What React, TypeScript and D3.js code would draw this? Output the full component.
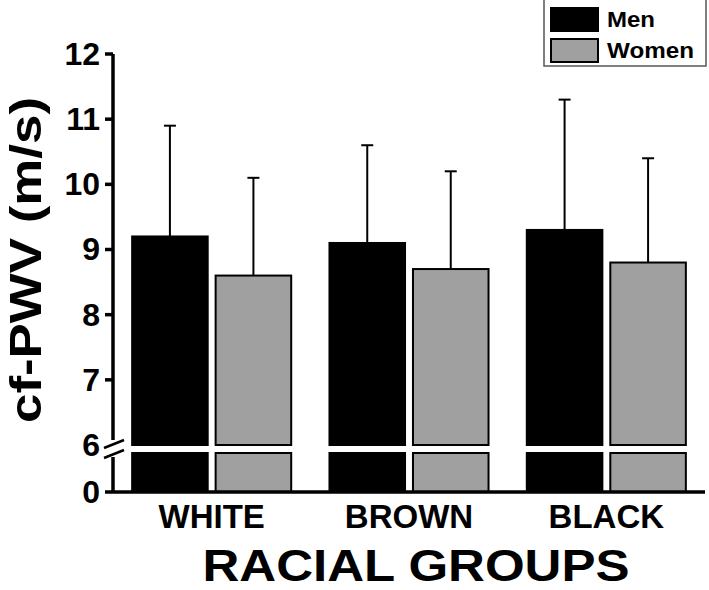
import React, { useEffect, useRef } from "react";
import * as d3 from "d3";

const groups = ["WHITE", "BROWN", "BLACK"];
const sexes = ["Men", "Women"];
const menMean = [9.2, 9.1, 9.3];
const menSd = [1.7, 1.5, 2.0];
const womenMean = [8.6, 8.7, 8.8];
const womenSd = [1.5, 1.5, 1.6];
const upperTicks = [7, 8, 9, 10, 11, 12];

const W = 709;
const H = 590;
const FONT = "'Liberation Sans', Arial, Helvetica, sans-serif";

const App = () => {
  const svgRef = useRef<SVGSVGElement | null>(null);

  useEffect(() => {
    const svg = d3.select(svgRef.current);
    svg.selectAll("*").remove();

    const axisX = 113;
    const axisRight = 705;
    const baseY = 492;

    // broken y axis: a short 0-6 segment under the break, 6-12 above it
    const yUpper = d3.scaleLinear().domain([6, 12]).range([445, 54]);
    const yLower = d3.scaleLinear().domain([0, 6]).range([baseY, 453]);

    const x0 = d3.scaleBand<string>()
      .domain(groups)
      .range([axisX, axisRight])
      .paddingInner(0.194)
      .paddingOuter(0.097);
    const x1 = d3.scaleBand<string>()
      .domain(sexes)
      .range([0, x0.bandwidth()])
      .paddingInner(0.095);

    const colors: Record<string, string> = { Men: "#000000", Women: "#a0a0a0" };

    const rows = groups.flatMap((g, i) => [
      { group: g, sex: "Men", mean: menMean[i], sd: menSd[i] },
      { group: g, sex: "Women", mean: womenMean[i], sd: womenSd[i] },
    ]);

    const g = svg.append("g");
    const bx = (d: any) => (x0(d.group) ?? 0) + (x1(d.sex) ?? 0);

    // error bars (drawn first, bars cover the lower part)
    const err = g.append("g").attr("stroke", "#000").attr("stroke-width", 2);
    rows.forEach((d) => {
      const cx = bx(d) + x1.bandwidth() / 2;
      err.append("line")
        .attr("x1", cx).attr("x2", cx)
        .attr("y1", yUpper(d.mean)).attr("y2", yUpper(d.mean + d.sd));
      err.append("line")
        .attr("x1", cx - 6).attr("x2", cx + 6)
        .attr("y1", yUpper(d.mean + d.sd)).attr("y2", yUpper(d.mean + d.sd));
    });

    // bars, upper part
    g.selectAll("rect.upper")
      .data(rows)
      .join("rect")
      .attr("class", "upper")
      .attr("x", (d) => bx(d))
      .attr("width", x1.bandwidth())
      .attr("y", (d) => yUpper(d.mean))
      .attr("height", (d) => yUpper(6) - yUpper(d.mean))
      .attr("fill", (d) => colors[d.sex])
      .attr("stroke", "#000")
      .attr("stroke-width", 2);

    // bars, lower part
    g.selectAll("rect.lower")
      .data(rows)
      .join("rect")
      .attr("class", "lower")
      .attr("x", (d) => bx(d))
      .attr("width", x1.bandwidth())
      .attr("y", yLower(6))
      .attr("height", yLower(0) - yLower(6))
      .attr("fill", (d) => colors[d.sex])
      .attr("stroke", "#000")
      .attr("stroke-width", 2);

    // y axis
    const ax = g.append("g").attr("stroke", "#000").attr("stroke-width", 3.5).attr("fill", "none");
    ax.append("line").attr("x1", axisX).attr("x2", axisX).attr("y1", yUpper(12)).attr("y2", 440);
    ax.append("line").attr("x1", axisX).attr("x2", axisX).attr("y1", 457).attr("y2", baseY);
    upperTicks.forEach((t) => {
      ax.append("line").attr("x1", axisX - 8).attr("x2", axisX).attr("y1", yUpper(t)).attr("y2", yUpper(t));
    });
    ax.append("line").attr("x1", axisX - 8).attr("x2", axisX).attr("y1", yLower(0)).attr("y2", yLower(0));
    // break marks
    ax.append("line").attr("x1", 104).attr("x2", 124).attr("y1", 448).attr("y2", 440).attr("stroke-width", 2.5);
    ax.append("line").attr("x1", 104).attr("x2", 124).attr("y1", 458).attr("y2", 450).attr("stroke-width", 2.5);
    // x axis baseline
    ax.append("line").attr("x1", axisX).attr("x2", axisRight).attr("y1", baseY).attr("y2", baseY);

    const labels = g.append("g")
      .attr("font-family", FONT)
      .attr("font-weight", "bold")
      .attr("font-size", 32)
      .attr("text-anchor", "end")
      .attr("fill", "#000");
    [...upperTicks, 6].forEach((t) => {
      labels.append("text").attr("x", 100).attr("y", yUpper(t)).attr("dy", "0.34em").text(t);
    });
    labels.append("text").attr("x", 100).attr("y", yLower(0)).attr("dy", "0.34em").text(0);

    // x group labels
    g.append("g")
      .attr("font-family", FONT)
      .attr("font-weight", "bold")
      .attr("font-size", 33)
      .attr("text-anchor", "middle")
      .selectAll("text")
      .data(groups)
      .join("text")
      .attr("x", (d) => (x0(d) ?? 0) + x0.bandwidth() / 2)
      .attr("y", 528)
      .text((d) => d);

    // axis titles
    g.append("text")
      .attr("font-family", FONT)
      .attr("font-weight", "bold")
      .attr("font-size", 45)
      .attr("text-anchor", "middle")
      .attr("x", 416)
      .attr("y", 581)
      .attr("textLength", 427)
      .attr("lengthAdjust", "spacingAndGlyphs")
      .text("RACIAL GROUPS");

    g.append("text")
      .attr("font-family", FONT)
      .attr("font-weight", "bold")
      .attr("font-size", 44)
      .attr("text-anchor", "middle")
      .attr("transform", "translate(41,260) rotate(-90)")
      .attr("textLength", 326)
      .attr("lengthAdjust", "spacingAndGlyphs")
      .text("cf-PWV (m/s)");

    // legend
    const lg = g.append("g");
    lg.append("rect")
      .attr("x", 544).attr("y", -1).attr("width", 162).attr("height", 67)
      .attr("fill", "#fff").attr("stroke", "#555").attr("stroke-width", 1.5);
    sexes.forEach((s, i) => {
      lg.append("rect")
        .attr("x", 551).attr("y", 8 + i * 31).attr("width", 47).attr("height", 23)
        .attr("fill", colors[s]).attr("stroke", "#000").attr("stroke-width", 2);
      lg.append("text")
        .attr("x", 607).attr("y", 27 + i * 31)
        .attr("font-family", FONT).attr("font-weight", "bold").attr("font-size", 22)
        .attr("textLength", s === "Men" ? 48 : 87)
        .attr("lengthAdjust", "spacingAndGlyphs")
        .text(s);
    });
  }, []);

  return (
    <svg
      ref={svgRef}
      width={W}
      height={H}
      style={{ position: "absolute", left: 0, top: 0, background: "#fff" }}
    />
  );
};

export default App;
